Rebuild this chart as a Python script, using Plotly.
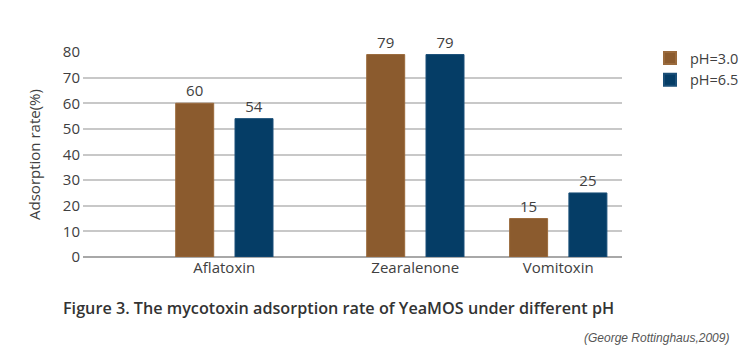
import plotly.graph_objects as go

categories = ["Aflatoxin", "Zearalenone", "Vomitoxin"]
ph30 = [60, 79, 15]
ph65 = [54, 79, 25]
labels30 = ["60", "79", "15"]
labels65 = ["54", "79", "25"]
series_names = ["pH=3.0", "pH=6.5"]
y_ticks = [0, 10, 20, 30, 40, 50, 60, 70, 80]

# layout: category centre positions on a numeric axis (pixel-like units)
cat_pos = [224.3, 415.3, 558.2]
BAR_W = 38
BROWN = "#8B5B2E"
BLUE = "#053D66"
TXT = "#404040"
FONT = "Open Sans"

PL, PR, PT, PB = 83, 622, 52.3, 256.7
PH = PB - PT
PW = PR - PL

fig = go.Figure()
fig.add_trace(go.Bar(
    x=cat_pos, y=ph30, name=series_names[0], width=BAR_W, offset=-48.6,
    marker=dict(color=BROWN, line=dict(color="#9A6A3C", width=1)),
    text=labels30, textposition="outside", cliponaxis=False,
    textfont=dict(family=FONT, size=15, color=TXT),
))
fig.add_trace(go.Bar(
    x=cat_pos, y=ph65, name=series_names[1], width=BAR_W, offset=10.7,
    marker=dict(color=BLUE, line=dict(color="#1A4F78", width=1)),
    text=labels65, textposition="outside", cliponaxis=False,
    textfont=dict(family=FONT, size=15, color=TXT),
))

fig.update_layout(
    width=750, height=355,
    margin=dict(l=PL, r=750 - PR, t=PT, b=355 - PB, autoexpand=False),
    paper_bgcolor="white", plot_bgcolor="white",
    barmode="overlay",
    font=dict(family=FONT, color=TXT),
    showlegend=True,
    legend=dict(x=(650 - PL) / PW, y=1 + 10 / PH, xanchor="left", yanchor="top",
                font=dict(family=FONT, size=14.5, color=TXT),
                itemsizing="constant", tracegroupgap=2),
    xaxis=dict(range=[PL, PR], tickvals=cat_pos, ticktext=categories,
               showgrid=False, zeroline=False, showline=False, ticks="",
               tickfont=dict(family=FONT, size=15, color=TXT)),
    yaxis=dict(range=[0, 80], tickvals=y_ticks, showgrid=True,
               gridcolor="#C8C8C8", gridwidth=1.5, zeroline=True,
               zerolinecolor="#A8A8A8", zerolinewidth=1.5,
               tickfont=dict(family=FONT, size=15, color=TXT),
               ticks="", ticklabelstandoff=2,
               title=dict(text="Adsorption rate(%)", standoff=18,
                          font=dict(family=FONT, size=15, color=TXT))),
    annotations=[
        dict(text="Figure 3. The mycotoxin adsorption rate of YeaMOS under different pH",
             xref="paper", yref="paper", x=(61 - PL) / PW, y=(PB - 308) / PH,
             xanchor="left", yanchor="middle", showarrow=False,
             font=dict(family=FONT, size=16.2, color="#333333", weight=600)),
        dict(text="<i>(George Rottinghaus,2009)</i>",
             xref="paper", yref="paper", x=(731 - PL) / PW, y=(PB - 337) / PH,
             xanchor="right", yanchor="middle", showarrow=False,
             font=dict(family="Liberation Sans", size=12, color="#555555")),
    ],
)

fig.write_html("out.html", config={"displayModeBar": False},
               post_script="document.body.style.margin='0';")
